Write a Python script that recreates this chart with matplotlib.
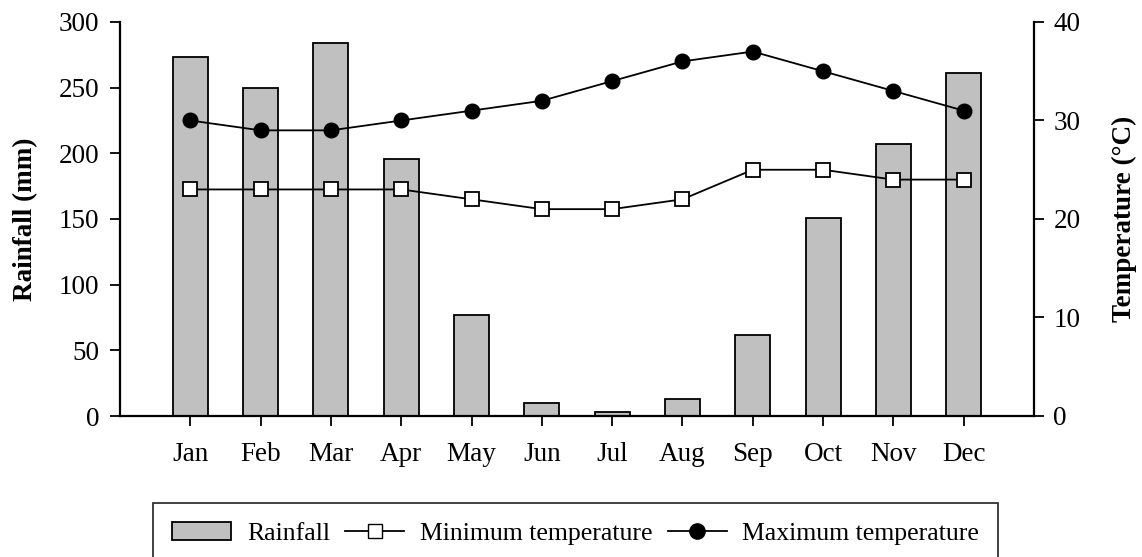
import numpy as np
import matplotlib.pyplot as plt
from matplotlib.patches import Patch
from matplotlib.lines import Line2D

plt.rcParams['font.family'] = ['Liberation Serif', 'DejaVu Serif']

months = ['Jan', 'Feb', 'Mar', 'Apr', 'May', 'Jun', 'Jul', 'Aug', 'Sep', 'Oct', 'Nov', 'Dec']
rainfall = [273, 250, 284, 196, 77, 10, 3, 13, 62, 151, 207, 261]
temp_min = [23, 23, 23, 23, 22, 21, 21, 22, 25, 25, 24, 24]
temp_max = [30, 29, 29, 30, 31, 32, 34, 36, 37, 35, 33, 31]

x = np.arange(1, len(months) + 1)
fs = 19.5

fig = plt.figure(figsize=(11.42, 5.57), dpi=100)
ax = fig.add_axes([120 / 1142, 1 - 416 / 557, (1034 - 120) / 1142, (416 - 22) / 557])

ax.bar(x, rainfall, width=0.5, color='#c0c0c0', edgecolor='black', linewidth=1.3, zorder=2)
ax.set_xlim(0, 13)
ax.set_ylim(0, 300)
ax.set_yticks(range(0, 301, 50))
ax.set_xticks(x)
ax.set_xticklabels(months)
ax.set_ylabel('Rainfall (mm)', fontsize=fs, fontweight='bold')
ax.yaxis.set_label_coords(-0.09, 0.5)

ax2 = ax.twinx()
ax2.plot(x, temp_min, color='black', linewidth=1.3, marker='s', markersize=10,
         markerfacecolor='white', markeredgecolor='black', markeredgewidth=1.3, zorder=3)
ax2.plot(x, temp_max, color='black', linewidth=1.3, marker='o', markersize=10.5,
         markerfacecolor='black', zorder=3)
ax2.set_ylim(0, 40)
ax2.set_yticks(range(0, 41, 10))
ax2.set_ylabel('Temperature (°C)', fontsize=fs, fontweight='bold')
ax2.yaxis.set_label_coords(1.085, 0.5)

for a in (ax, ax2):
    a.spines['top'].set_visible(False)
    for s in ('left', 'right', 'bottom'):
        a.spines[s].set_linewidth(1.6)
    a.tick_params(labelsize=fs, width=1.3, length=7, direction='out')
ax.spines['right'].set_visible(False)
ax2.spines['left'].set_visible(False)
ax2.spines['bottom'].set_visible(False)
ax.tick_params(axis='x', pad=12)
ax.tick_params(axis='y', pad=8)
ax2.tick_params(axis='y', pad=7)

handles = [
    Patch(facecolor='#c0c0c0', edgecolor='black', linewidth=1.3),
    Line2D([], [], color='black', linewidth=1.3, marker='s', markersize=10,
           markerfacecolor='white', markeredgecolor='black'),
    Line2D([], [], color='black', linewidth=1.3, marker='o', markersize=11,
           markerfacecolor='black'),
]
labels = ['Rainfall', 'Minimum temperature', 'Maximum temperature']
leg = fig.legend(handles, labels, loc='upper left', bbox_to_anchor=(153 / 1142, 1 - 503 / 557),
                 ncol=3, frameon=True, fancybox=False, fontsize=18.5, handlelength=2.3,
                 columnspacing=0.6, handletextpad=0.6, borderpad=0.75, borderaxespad=0)
leg.get_frame().set_edgecolor('black')
leg.get_frame().set_linewidth(1.3)

fig.savefig('out.png', dpi=100)
